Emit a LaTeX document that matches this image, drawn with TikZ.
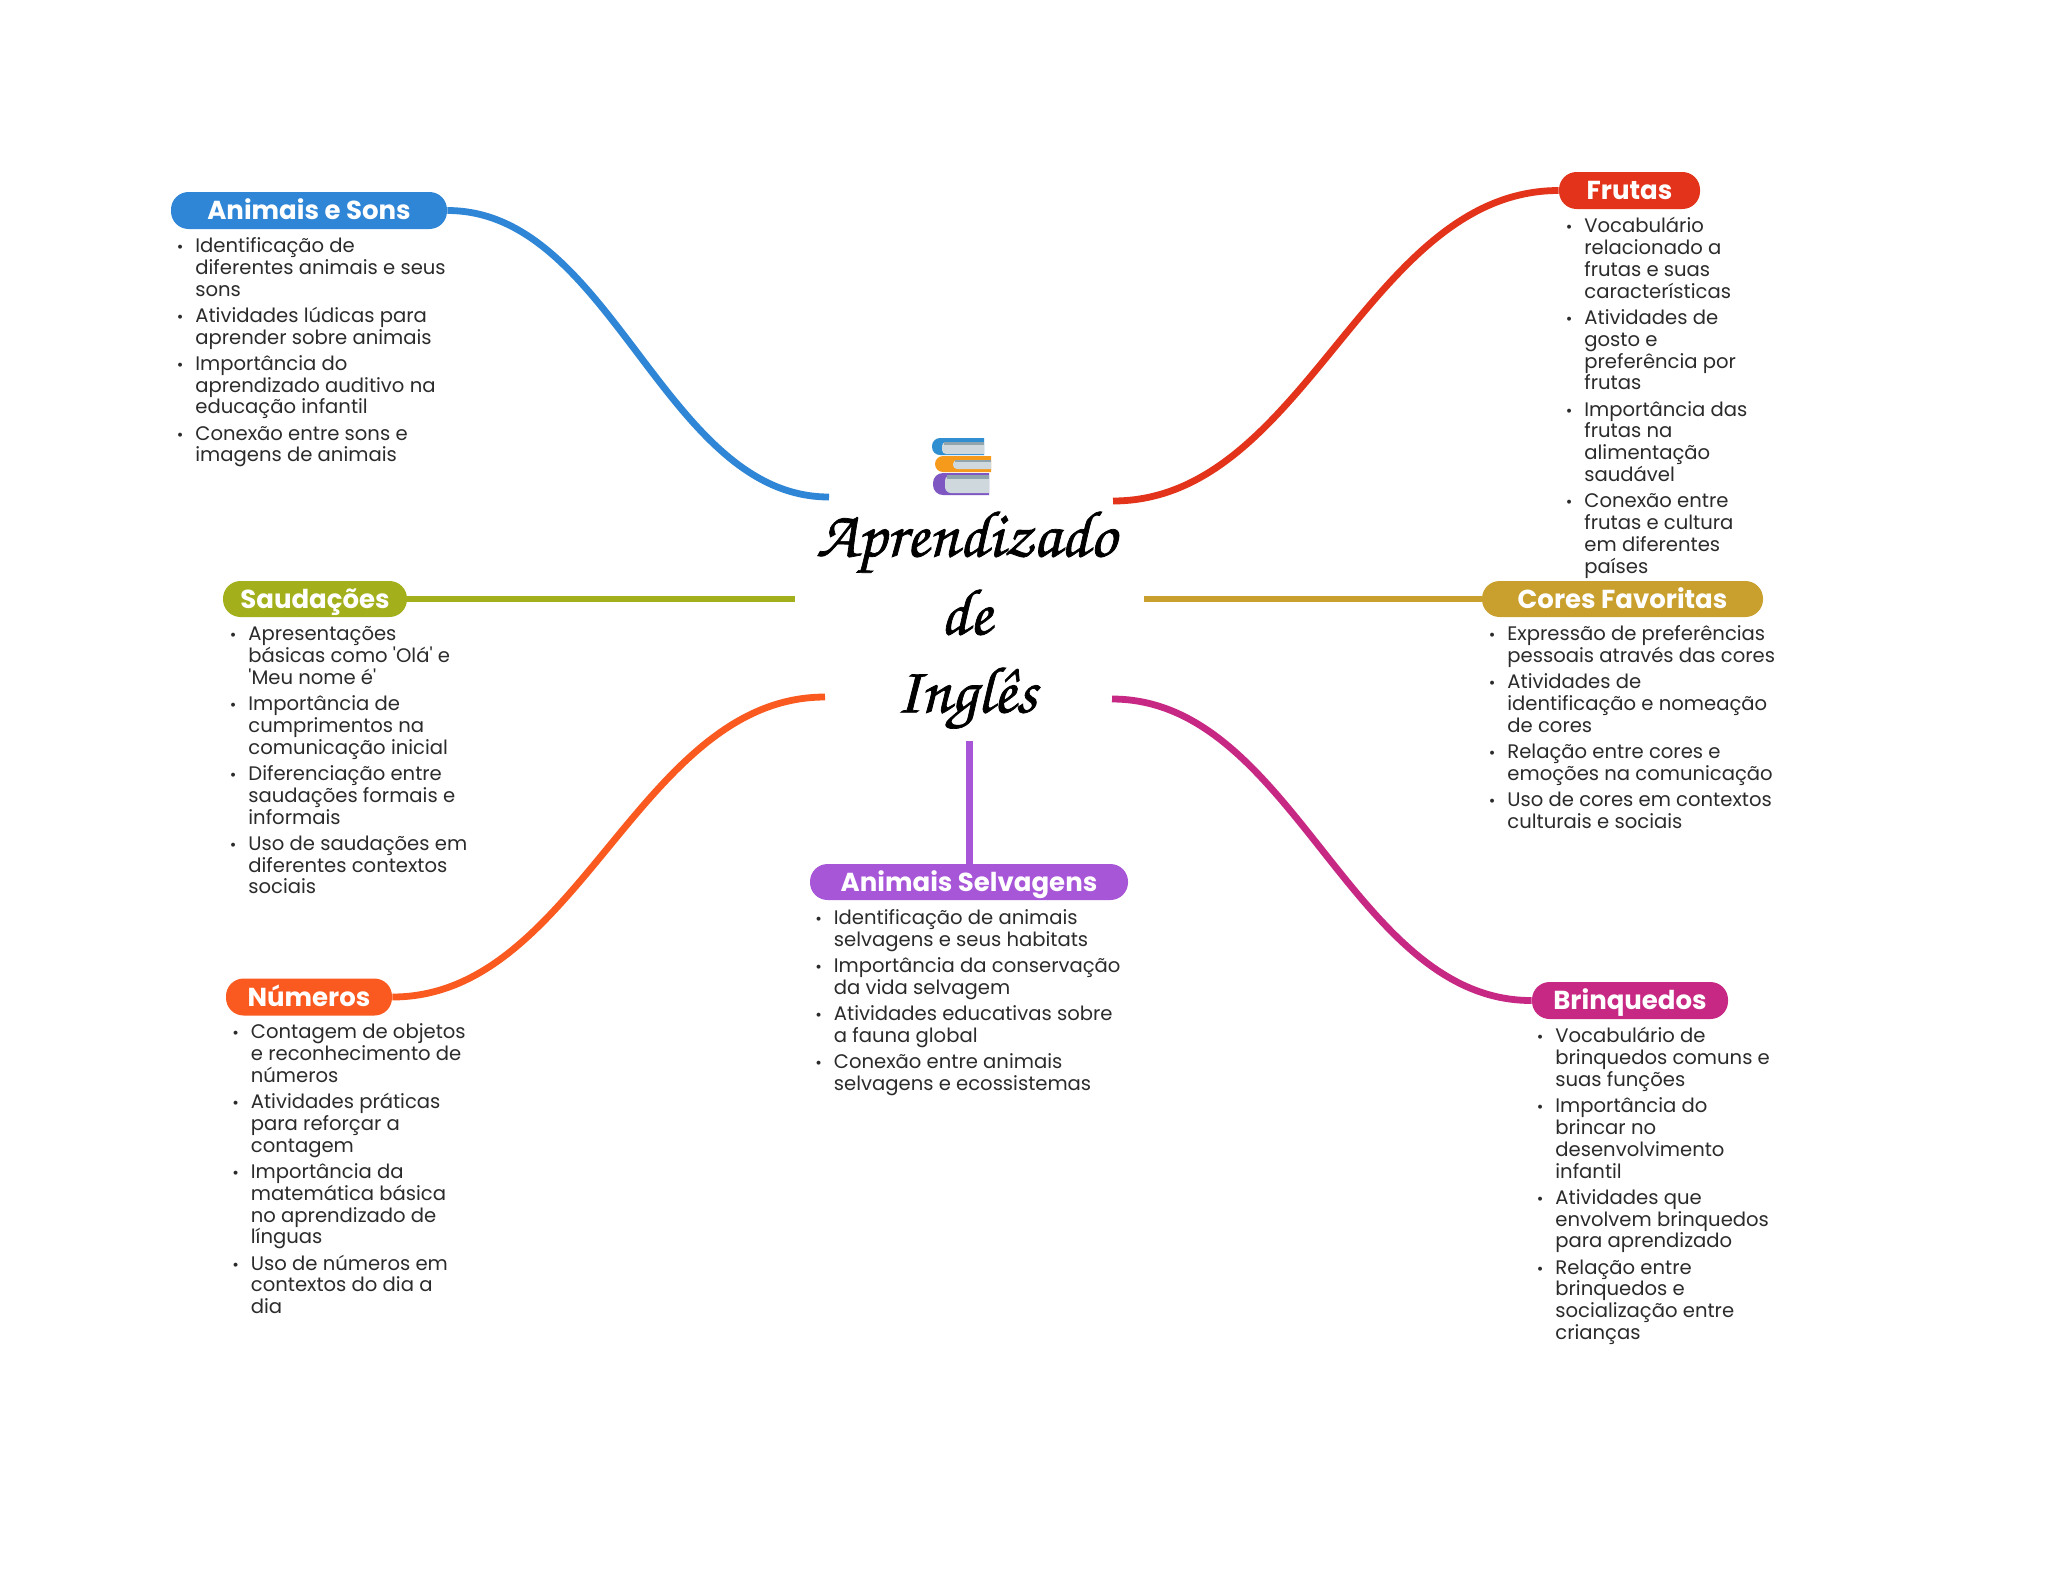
\documentclass[tikz,border=0pt]{standalone}
\usepackage{fontspec}
\setmainfont{Poppins}
\definecolor{cblue}{HTML}{2F86D6}
\definecolor{cred}{HTML}{E3341B}
\definecolor{colive}{HTML}{A3B01B}
\definecolor{cgold}{HTML}{C9A02E}
\definecolor{cpurple}{HTML}{A856D8}
\definecolor{corange}{HTML}{FA5A1F}
\definecolor{cmag}{HTML}{C72884}
\definecolor{ctext}{HTML}{2B2B2B}
\definecolor{cpage}{HTML}{CFD8DC}
\definecolor{cpagedark}{HTML}{90A4AE}
\definecolor{cbookb}{HTML}{2F8FD0}
\definecolor{cbooko}{HTML}{F59A1B}
\definecolor{cbookp}{HTML}{7E57C2}
\newcommand\bu{\rule{0pt}{8pt}\llap{{\fontsize{8}{8}\selectfont •}\hspace{6pt}}}
\newcommand\gap{\\[2.2pt]}
\tikzset{
 pill/.style={rounded corners=8.8pt,inner sep=0pt,text=white,text height=9pt,text depth=0pt,font={\fontsize{13}{14}\selectfont\bfseries}},
 block/.style={anchor=north west,inner sep=0pt,align=left,text=ctext,font={\fontsize{9.8}{10.9}\selectfont}},
 link/.style={line width=3.4pt},
 titletext/.style={inner sep=0pt,align=center,font={\fontencoding{T1}\fontfamily{pzc}\fontseries{m}\fontshape{it}\fontsize{33}{39}\selectfont}}
}
\begin{document}
\begin{tikzpicture}[x=0.5pt,y=-0.5pt]
\useasboundingbox (0,0) rectangle (2048,1569);
\fill[white] (0,0) rectangle (2048,1569);
% pills
\node[pill,fill=cblue,minimum width=138pt,minimum height=18.5pt] (p1) at (309,210.5) {Animais e Sons};
\node[pill,fill=cred,minimum width=70.5pt,minimum height=18.5pt] (p2) at (1629.5,190.5) {Frutas};
\node[pill,fill=colive,minimum width=92pt,minimum height=18pt] (p3) at (315,599) {Saudações};
\node[pill,fill=cgold,minimum width=140.5pt,minimum height=18pt] (p4) at (1622.5,599) {Cores Favoritas};
\node[pill,fill=cpurple,minimum width=159pt,minimum height=18pt] (p5) at (969,882) {Animais Selvagens};
\node[pill,fill=corange,minimum width=83pt,minimum height=18.5pt] (p6) at (309,997) {Números};
\node[pill,fill=cmag,minimum width=98pt,minimum height=18.5pt] (p7) at (1630,1000.5) {Brinquedos};
% centre
\node[titletext] (title) at (966,621) {\special{pdf:code 2 Tr 0.35 w}Aprendizado\\de\\Inglês\special{pdf:code 0 Tr 0 w}};
\coordinate (e1) at (829,497);
\coordinate (e2) at (1113,501);
\coordinate (e3) at (795,599);
\coordinate (e4) at (1144,599);
\coordinate (e5) at (969.5,741);
\coordinate (e6) at (825,697);
\coordinate (e7) at (1112,699);
% connectors
\draw[link,cblue] (p1.east) .. controls (612,210.5) and (664,497) .. (e1);
\draw[link,cred] (e2) .. controls (1305,501) and (1367,190.5) .. (p2.west);
\draw[link,colive] (p3.east) -- (e3);
\draw[link,cgold] (e4) -- (p4.west);
\draw[link,cpurple] (e5) -- (p5.north -| e5);
\draw[link,corange] (p6.east) .. controls (578,997) and (639,697) .. (e6);
\draw[link,cmag] (e7) .. controls (1293,699) and (1351,1001) .. (p7.west);
% book icon
\fill[cbookb] (984,438) [rounded corners=4pt] -- (932,438) -- (932,455) [sharp corners] -- (984,455) -- cycle;
\fill[cpage] (984,442) [rounded corners=2pt] -- (942,442) -- (942,454) [sharp corners] -- (984,454) -- cycle;
\fill[cpagedark] (944,442) rectangle (984,445);
\fill[cbooko] (991,456) [rounded corners=4pt] -- (935,456) -- (935,472) [sharp corners] -- (991,472) -- cycle;
\fill[cpage] (991,460) [rounded corners=2pt] -- (953,460) -- (953,469) [sharp corners] -- (991,469) -- cycle;
\fill[cpagedark] (955,460) rectangle (991,462);
\fill[cbookp] (989,473) [rounded corners=5pt] -- (933,473) -- (933,495) [sharp corners] -- (989,495) -- cycle;
\fill[cpage] (989,475) [rounded corners=3pt] -- (945,475) -- (945,493) [sharp corners] -- (989,493) -- cycle;
\fill[cpagedark] (947,475) rectangle (989,479);
% lists
\node[block] (l1) at (195,236) {\bu Identificação de\\diferentes animais e seus\\sons\gap
\bu Atividades lúdicas para\\aprender sobre animais\gap
\bu Importância do\\aprendizado auditivo na\\educação infantil\gap
\bu Conexão entre sons e\\imagens de animais};
\node[block] (l2) at (1584,216.5) {\bu Vocabulário\\relacionado a\\frutas e suas\\características\gap
\bu Atividades de\\gosto e\\preferência por\\frutas\gap
\bu Importância das\\frutas na\\alimentação\\saudável\gap
\bu Conexão entre\\frutas e cultura\\em diferentes\\países};
\node[block] (l3) at (248,624.5) {\bu Apresentações\\básicas como \textquotesingle Olá\textquotesingle{} e\\\textquotesingle Meu nome é\textquotesingle\gap
\bu Importância de\\cumprimentos na\\comunicação inicial\gap
\bu Diferenciação entre\\saudações formais e\\informais\gap
\bu Uso de saudações em\\diferentes contextos\\sociais};
\node[block] (l4) at (1507,624.5) {\bu Expressão de preferências\\pessoais através das cores\gap
\bu Atividades de\\identificação e nomeação\\de cores\gap
\bu Relação entre cores e\\emoções na comunicação\gap
\bu Uso de cores em contextos\\culturais e sociais};
\node[block] (l5) at (833.5,908) {\bu Identificação de animais\\selvagens e seus habitats\gap
\bu Importância da conservação\\da vida selvagem\gap
\bu Atividades educativas sobre\\a fauna global\gap
\bu Conexão entre animais\\selvagens e ecossistemas};
\node[block] (l6) at (250.5,1022.5) {\bu Contagem de objetos\\e reconhecimento de\\números\gap
\bu Atividades práticas\\para reforçar a\\contagem\gap
\bu Importância da\\matemática básica\\no aprendizado de\\línguas\gap
\bu Uso de números em\\contextos do dia a\\dia};
\node[block] (l7) at (1555,1026.5) {\bu Vocabulário de\\brinquedos comuns e\\suas funções\gap
\bu Importância do\\brincar no\\desenvolvimento\\infantil\gap
\bu Atividades que\\envolvem brinquedos\\para aprendizado\gap
\bu Relação entre\\brinquedos e\\socialização entre\\crianças};
\end{tikzpicture}
\end{document}
